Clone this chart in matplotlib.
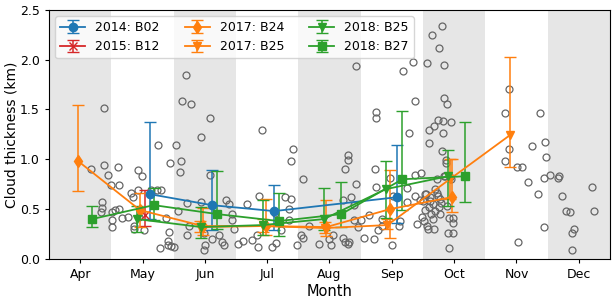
import numpy as np
import matplotlib.pyplot as plt

MONTHS = ["Apr", "May", "Jun", "Jul", "Aug", "Sep", "Oct", "Nov", "Dec"]
MONTH_NUM = [4, 5, 6, 7, 8, 9, 10, 11, 12]

# individual retrievals (month as fractional position, thickness in km)
obs_x = [4.18, 4.38, 4.38, 4.44, 4.60, 4.50, 4.63, 4.35, 4.35, 4.33, 4.51, 4.56, 4.63,
         4.51, 4.51, 4.67, 4.76, 4.82, 4.84, 4.93, 4.99, 4.93, 4.87, 4.87, 5.02, 4.95,
         5.14, 5.23, 5.30, 5.25, 5.38, 5.28, 5.41, 5.41, 5.46, 5.50, 5.42, 5.44, 5.54,
         5.61, 5.60, 5.64, 5.69, 5.78, 5.57, 5.72, 5.72, 5.74, 5.94, 6.08, 6.08, 5.94,
         5.99, 6.00, 5.98, 6.12, 6.22, 6.28, 6.30, 6.34, 6.38, 6.43, 6.43, 6.47, 6.54,
         6.62, 6.67, 6.75, 6.84, 6.87, 6.92, 6.86, 7.08, 7.14, 7.12, 7.22, 7.28, 7.35,
         7.38, 7.38, 7.41, 7.35, 7.48, 7.54, 7.57, 7.57, 7.67, 7.83, 8.00, 8.03, 8.06,
         8.21, 8.25, 8.30, 8.30, 8.21, 8.25, 8.30, 8.32, 8.34, 8.39, 8.40, 8.42, 8.42,
         8.46, 8.51, 8.56, 8.64, 8.71, 8.73, 8.75, 8.75, 8.75, 8.78, 8.84, 8.84, 9.02,
         8.97, 9.00, 9.11, 9.13, 9.18, 9.28, 9.24, 9.24, 9.34, 9.37, 9.37, 9.37, 9.41,
         9.47, 9.53, 9.57, 9.60, 9.60, 9.64, 9.68, 9.74, 9.76, 9.80, 9.83, 9.83, 9.88,
         9.82, 9.82, 9.95, 9.80, 9.87, 9.87, 9.91, 9.90, 9.98, 9.98, 9.91, 9.98,
         9.50, 9.55, 9.58, 9.62, 9.66, 9.70, 9.72, 9.75, 9.78, 9.52, 9.57, 9.63, 9.69,
         9.74, 9.79, 9.84, 9.60, 9.66, 9.72, 9.77, 9.85, 9.45, 9.48, 9.54, 9.61, 9.68,
         9.93, 9.88, 9.95,
         10.81, 10.88, 10.81, 10.88, 11.01, 11.09, 11.03, 11.18, 11.25, 11.34, 11.38,
         11.44, 11.46, 11.47, 11.44, 11.54, 11.66, 11.69, 11.73, 11.79, 11.86, 11.89,
         11.92, 11.89, 12.22, 12.24]
obs_y = [0.90, 1.52, 0.94, 0.84, 0.92, 0.74, 0.74, 0.57, 0.51, 0.47, 0.47, 0.49, 0.50,
         0.39, 0.32, 0.41, 0.42, 0.66, 0.62, 0.89, 0.83, 0.69, 0.30, 0.33, 0.29, 0.42,
         0.69, 0.69, 0.69, 1.14, 0.41, 0.11, 0.14, 0.18, 0.13, 0.12, 0.27, 0.96, 1.14,
         0.98, 0.87, 1.59, 1.85, 1.56, 0.48, 0.56, 0.24, 0.33, 1.22, 1.41, 0.84, 0.57,
         0.26, 0.14, 0.09, 0.20, 0.24, 0.17, 0.14, 0.59, 0.55, 0.45, 0.39, 0.30, 0.15,
         0.18, 0.55, 0.19, 0.24, 0.63, 1.29, 0.12, 0.12, 0.16, 0.46, 0.29, 0.62, 0.50,
         0.60, 0.98, 1.10, 0.39, 0.14, 0.24, 0.21, 0.80, 0.33, 0.15, 0.20, 0.14, 0.24,
         0.59, 0.90, 0.99, 1.04, 0.21, 0.17, 0.15, 0.17, 0.62, 0.54, 0.39, 1.94, 0.75,
         0.32, 0.39, 0.21, 0.44, 0.20, 0.90, 1.47, 1.41, 0.72, 0.29, 0.40, 0.33, 0.63,
         0.81, 0.14, 0.33, 0.38, 1.89, 1.26, 0.71, 0.57, 1.98, 1.59, 0.84, 0.63, 0.35,
         0.86, 0.49, 1.97, 1.16, 1.29, 2.25, 1.33, 1.39, 2.12, 2.34, 1.95, 1.62, 1.56,
         1.38, 1.26, 1.37, 1.08, 0.99, 0.96, 0.11, 0.26, 0.26, 0.41, 0.41, 0.36,
         0.58, 0.65, 0.30, 0.62, 0.55, 0.48, 0.66, 0.52, 0.60, 0.38, 0.33, 0.45, 0.70,
         0.63, 0.56, 0.83, 0.52, 0.40, 0.80, 0.45, 0.83, 0.59, 0.42, 0.65, 0.58, 0.30,
         0.82, 0.53, 0.80,
         1.46, 1.71, 0.98, 1.10, 0.92, 0.92, 0.17, 0.77, 1.13, 0.65, 1.46,
         0.81, 1.17, 1.02, 0.32, 0.84, 0.81, 0.83, 0.63, 0.48, 0.47, 0.26,
         0.30, 0.09, 0.72, 0.48]

# monthly means per buoy with error bar bounds
b02_x = [5.12, 6.11, 7.11, 9.09]
b02_y = [0.65, 0.54, 0.48, 0.62]
b02_lo = [0.40, 0.29, 0.29, 0.36]
b02_hi = [1.37, 0.89, 0.74, 1.14]

b12_x = [5.04]
b12_y = [0.44]
b12_lo = [0.33]
b12_hi = [0.69]

b24_x = [3.97, 4.96, 5.97, 6.98, 7.95, 8.97, 9.96]
b24_y = [0.98, 0.49, 0.33, 0.33, 0.32, 0.50, 0.62]
b24_lo = [0.68, 0.32, 0.24, 0.24, 0.23, 0.21, 0.47]
b24_hi = [1.55, 0.66, 0.51, 0.60, 0.59, 0.89, 1.00]

b25a_x = [5.93, 6.93, 7.93, 8.93, 9.93, 10.89]
b25a_y = [0.32, 0.33, 0.31, 0.34, 0.80, 1.24]
b25a_lo = [0.27, 0.27, 0.26, 0.30, 0.60, 0.92]
b25a_hi = [0.38, 0.40, 0.37, 0.40, 1.00, 2.03]

b25b_x = [4.91, 5.94, 6.93, 7.91, 8.90, 9.90]
b25b_y = [0.40, 0.32, 0.34, 0.40, 0.70, 0.83]
b25b_lo = [0.27, 0.21, 0.24, 0.29, 0.41, 0.53]
b25b_hi = [0.53, 0.52, 0.59, 0.71, 0.98, 1.09]

b27_x = [4.19, 5.18, 6.20, 7.19, 8.19, 9.17, 10.18]
b27_y = [0.40, 0.54, 0.45, 0.38, 0.45, 0.80, 0.83]
b27_lo = [0.32, 0.39, 0.30, 0.23, 0.32, 0.49, 0.57]
b27_hi = [0.53, 0.71, 0.88, 0.66, 0.77, 1.48, 1.37]

series = [
    ("2014: B02", b02_x, b02_y, b02_lo, b02_hi, "C0", "o"),
    ("2015: B12", b12_x, b12_y, b12_lo, b12_hi, "C3", "x"),
    ("2017: B24", b24_x, b24_y, b24_lo, b24_hi, "C1", "d"),
    ("2017: B25", b25a_x, b25a_y, b25a_lo, b25a_hi, "C1", "v"),
    ("2018: B25", b25b_x, b25b_y, b25b_lo, b25b_hi, "C2", "v"),
    ("2018: B27", b27_x, b27_y, b27_lo, b27_hi, "C2", "s"),
]

fig = plt.figure(figsize=(6.13, 2.99), dpi=100)
ax = fig.add_axes([0.080, 0.134, 0.915, 0.833])

# shade every other month
for m in MONTH_NUM[::2]:
    ax.axvspan(m - 0.5, m + 0.5, color="0.9", lw=0, zorder=0)

ax.plot(obs_x, obs_y, "o", mfc="none", mec="0.4", ms=5, mew=0.9, zorder=2)

for label, x, y, lo, hi, c, mk in series:
    y = np.asarray(y)
    yerr = [y - np.asarray(lo), np.asarray(hi) - y]
    ax.errorbar(x, y, yerr=yerr, color=c, marker=mk, ms=6, lw=1.3,
                capsize=4, elinewidth=1.1, label=label, zorder=3)

ax.set_xlim(3.5, 12.5)
ax.set_ylim(0, 2.5)
ax.set_xticks(MONTH_NUM)
ax.set_xticklabels(MONTHS)
ax.set_xlabel("Month", fontsize=10.5, labelpad=2)
ax.set_ylabel("Cloud thickness (km)", fontsize=10, labelpad=1)
ax.tick_params(labelsize=9, length=3)
ax.legend(ncol=3, loc="upper left", fontsize=9)

fig.savefig("out.png", dpi=100)
